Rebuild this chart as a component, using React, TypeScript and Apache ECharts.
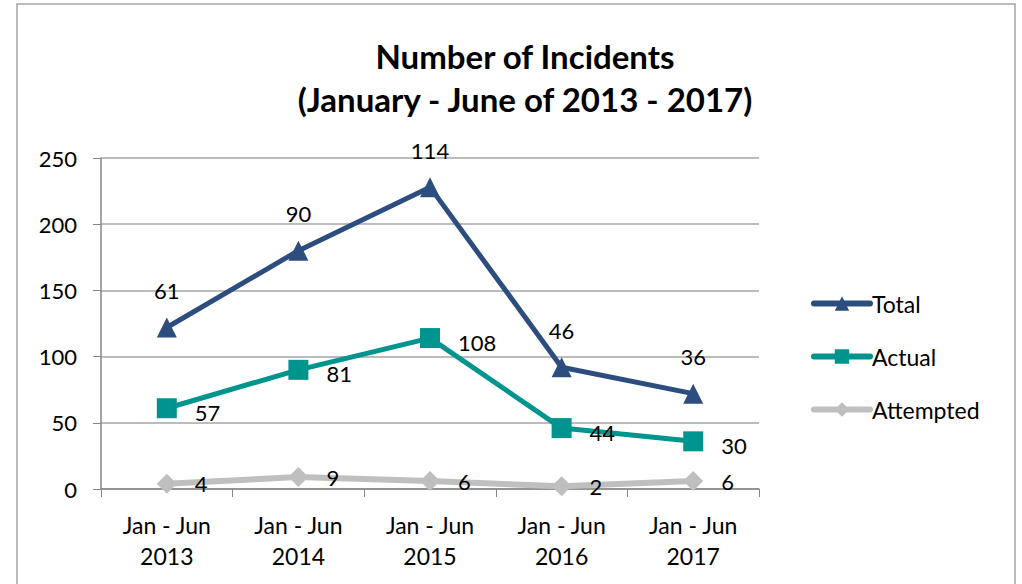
import React, { useEffect, useRef } from "react";
import * as echarts from "echarts";

const categories = ["Jan - Jun\n2013", "Jan - Jun\n2014", "Jan - Jun\n2015", "Jan - Jun\n2016", "Jan - Jun\n2017"];
const attempted = [4, 9, 6, 2, 6];
const actual = [57, 81, 108, 44, 30];
const total = [61, 90, 114, 46, 36];
const yTicks = { min: 0, max: 250, interval: 50 };

const FONT = "Lato, 'Open Sans', sans-serif";

export default function App() {
  const ref = useRef<HTMLDivElement>(null);
  useEffect(() => {
    const chart = echarts.init(ref.current!, null, { renderer: "svg" });
    const labelBase = { show: true, color: "#000", fontSize: 22, fontFamily: FONT };
    chart.setOption({
      animation: false,
      backgroundColor: "#fff",
      title: {
        text: "Number of Incidents\n(January - June of 2013 - 2017)",
        left: 520,
        top: 29,
        textAlign: "center",
        textStyle: { fontSize: 33, fontWeight: "bold", fontFamily: FONT, color: "#000", lineHeight: 43 },
      },
      graphic: [
        {
          type: "rect",
          shape: { x: 17, y: 4, width: 998, height: 600 },
          style: { fill: "none", stroke: "#a6a6a6", lineWidth: 1.5 },
          silent: true,
        },
      ],
      legend: {
        data: ["Total", "Actual", "Attempted"],
        orient: "vertical",
        left: 806,
        top: 287,
        itemGap: 30,
        itemWidth: 56,
        itemHeight: 18,
        lineStyle: { width: 6, cap: "round" },
        textStyle: { fontSize: 23, fontFamily: FONT, color: "#000", padding: [0, 0, 0, -3] },
      },
      grid: { left: 101, right: 263, top: 158, bottom: 95 },
      xAxis: {
        type: "category",
        data: categories,
        boundaryGap: true,
        axisLine: { lineStyle: { color: "#868686", width: 1.5 } },
        axisTick: { show: true, length: 8, lineStyle: { color: "#868686" } },
        axisLabel: { fontSize: 23, fontFamily: FONT, color: "#000", lineHeight: 31, margin: 20 },
      },
      yAxis: {
        type: "value",
        min: yTicks.min,
        max: yTicks.max,
        interval: yTicks.interval,
        axisLine: { show: true, lineStyle: { color: "#868686", width: 1.5 } },
        axisTick: { show: true, length: 8, lineStyle: { color: "#868686" } },
        axisLabel: { fontSize: 22, fontFamily: FONT, color: "#000", margin: 24 },
        splitLine: { lineStyle: { color: "#a6a6a6", width: 1.5 } },
      },
      series: [
        {
          name: "Attempted",
          type: "line",
          stack: "all",
          data: attempted,
          symbol: "diamond",
          symbolSize: 20,
          color: "#bfbfbf",
          lineStyle: { width: 6, color: "#bfbfbf" },
          itemStyle: { color: "#bfbfbf" },
          label: { ...labelBase, position: "right", distance: 18 },
        },
        {
          name: "Actual",
          type: "line",
          stack: "all",
          data: actual,
          symbol: "rect",
          symbolSize: 20,
          color: "#00948f",
          lineStyle: { width: 5, color: "#00948f" },
          itemStyle: { color: "#00948f" },
          label: { ...labelBase, position: "right", distance: 18, offset: [0, 4] },
        },
        {
          name: "Total",
          type: "line",
          stack: "all",
          data: total,
          symbol: "triangle",
          symbolSize: 20,
          color: "#2c4d7e",
          lineStyle: { width: 5, color: "#2c4d7e" },
          itemStyle: { color: "#2c4d7e" },
          label: { ...labelBase, position: "top", distance: 16 },
        },
      ],
    });
    return () => chart.dispose();
  }, []);
  return (
    <div
      ref={ref}
      style={{ position: "absolute", left: 0, top: 0, width: 1022, height: 584 }}
    />
  );
}
